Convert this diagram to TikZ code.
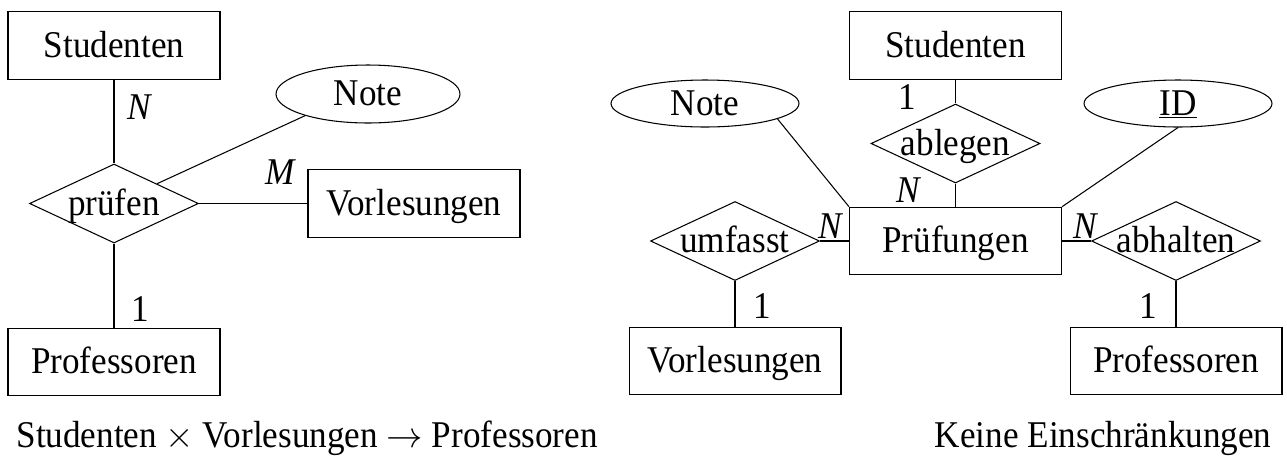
\documentclass[tikz,border=0pt]{standalone}
\usepackage{fontspec}
\setmainfont{Liberation Serif}[FakeStretch=0.93]
\usetikzlibrary{shapes.geometric}

\begin{document}
\begin{tikzpicture}[x=0.02cm,y=-0.02cm,line width=0.6pt,
  every node/.style={font=\fontsize{21.5}{26}\selectfont,inner sep=0pt,text height=13.3pt,text depth=0pt},
  entity/.style={draw,rectangle,minimum width=4.24cm,minimum height=1.35cm},
  relship/.style={draw,diamond,minimum width=3.38cm,minimum height=1.58cm},
  attrib/.style={draw,ellipse,minimum width=#1},
  card/.style={font=\fontsize{21.5}{26}\selectfont\itshape}]
\useasboundingbox (0,0) rectangle (1287,457);
% ternaere Beziehung
\node[entity] (stud1) at (114,45.5) {Studenten};
\node[attrib=3.68cm,minimum height=1.16cm] (note1) at (368,94) {Note};
\node[relship] (pr1) at (114,203.5) {\makebox[0pt]{prüfen}};
\node[entity] (vl1) at (414,203.5) {Vorlesungen};
\node[entity] (prof1) at (114,362) {Professoren};
\draw (stud1) -- (pr1);
\draw (pr1) -- (prof1);
\draw (pr1) -- (vl1);
\draw (pr1) -- (note1.199);
\node[card] (c1) at (139,108) {N};
\node[card] (c2) at (280,173) {M};
\node (c3) at (140,310) {1};
% Pruefungen als Entity
\node[entity] (stud2) at (955.5,45.5) {Studenten};
\node[attrib=3.76cm,minimum height=0.94cm] (note2) at (705,103.5) {Note};
\node[attrib=3.76cm,minimum height=0.94cm] (id) at (1178,103.5) {\underline{ID}};
\node[relship] (abl) at (955.5,143.5) {\makebox[0pt]{ablegen}};
\node[entity] (pruef) at (955.5,241) {Prüfungen};
\node[relship] (umf) at (735,241) {\makebox[0pt]{umfasst}};
\node[relship] (abh) at (1176,241) {\makebox[0pt]{abhalten}};
\node[entity] (vl2) at (735,361) {Vorlesungen};
\node[entity] (prof2) at (1176,361) {Professoren};
\draw (stud2) -- (abl);
\draw (abl) -- (pruef);
\draw (pruef) -- (umf);
\draw (umf) -- (vl2);
\draw (pruef) -- (abh);
\draw (abh) -- (prof2);
\draw (note2.-12) -- (pruef.north west);
\draw (id.south) -- (pruef.north east);
\node (c4) at (907,98) {1};
\node[card] (c5) at (908,191) {N};
\node[card] (c6) at (830,227) {N};
\node[card] (c7) at (1085,227) {N};
\node (c8) at (762,307) {1};
\node (c9) at (1148,307) {1};
% Unterschriften
\node[anchor=base west] (cap1) at (16,447) {Studenten $\times$ Vorlesungen $\rightarrow$ Professoren};
\node[anchor=base east] (cap2) at (1272,447) {Keine Einschränkungen};
\end{tikzpicture}
\end{document}
